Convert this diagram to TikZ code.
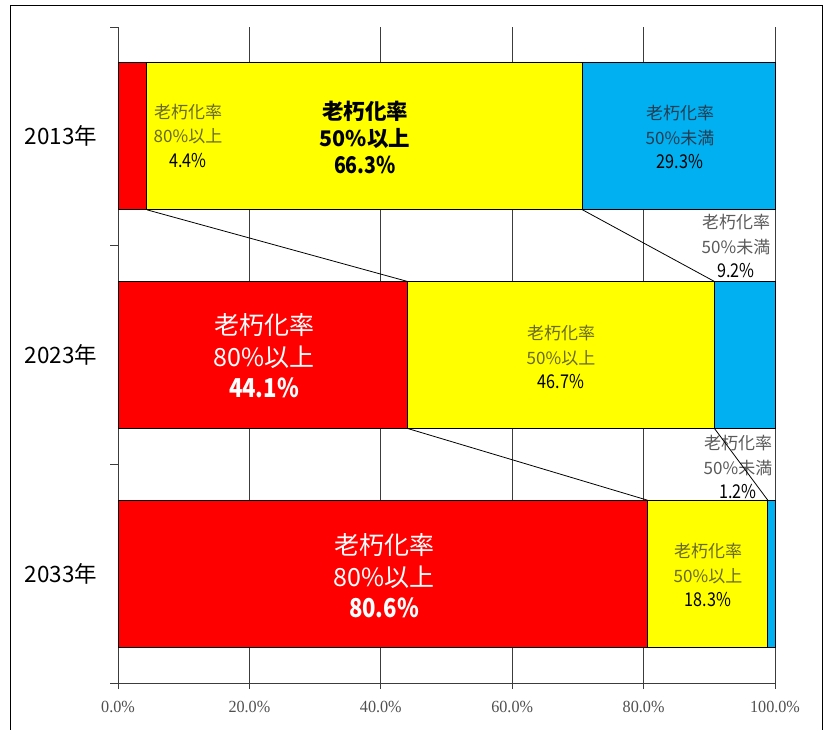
\documentclass[tikz,border=0pt]{standalone}
\usepackage{fontspec}
\newfontfamily\jp{Noto Sans CJK JP}
\newfontfamily\jpn{Noto Sans CJK JP}[FakeStretch=0.85]
\newfontfamily\axf{Liberation Serif}[FakeStretch=0.95]
\definecolor{barred}{RGB}{255,0,0}
\definecolor{baryel}{RGB}{255,255,0}
\definecolor{barblue}{RGB}{0,176,240}
\definecolor{oy}{RGB}{105,105,35}
\definecolor{ob}{RGB}{35,60,80}
\definecolor{ow}{RGB}{90,90,90}
\definecolor{gridc}{RGB}{60,60,60}
\definecolor{axc}{RGB}{80,80,80}
\newcommand\numline{\color{black}\jpn\fontsize{19}{24.5}\selectfont}
\tikzset{
  seg/.style={draw=black, line width=0.9pt, rectangle, inner sep=0pt, outer sep=0pt, minimum height=147pt, anchor=north west},
  lab/.style={align=center, inner sep=0pt},
  small/.style={lab, font=\jp\fontsize{17}{24.5}\selectfont},
  big/.style={lab, font=\jp\fontsize{25}{31.5}\selectfont, text=white},
  axlab/.style={inner sep=0pt, font=\axf\fontsize{17}{18}\selectfont, text=axc},
  yearlab/.style={inner sep=0pt, font=\jp\fontsize{22.5}{24}\selectfont},
  gridl/.style={draw=gridc, line width=0.8pt},
  conn/.style={draw=black, line width=0.8pt}
}
\begin{document}
\begin{tikzpicture}[x=1pt, y=-1pt]
\useasboundingbox (0,0) rectangle (830,729);
\clip (0,0) rectangle (830,729);
% outer frame
\draw[line width=1.8pt] (10.5,5.5) rectangle (822.5,760);
% grid and axes
\foreach \i in {0,...,5} {
  \draw[gridl] (118+131.4*\i,27) -- (118+131.4*\i,689);
}
\draw[gridl] (110,683) -- (775,683);
\foreach \yy in {27,245.67,464.33,683} {
  \draw[gridl] (110,\yy) -- (118,\yy);
}
% bars 2013
\node[seg, fill=barred, minimum width=28.9pt] (r13) at (118,62.8) {};
\node[seg, fill=baryel, minimum width=435.6pt] (ye13) at (r13.north east) {};
\node[seg, fill=barblue, minimum width=192.5pt] (b13) at (ye13.north east) {};
% bars 2023
\node[seg, fill=barred, minimum width=289.7pt] (r23) at (118,281.5) {};
\node[seg, fill=baryel, minimum width=306.8pt] (ye23) at (r23.north east) {};
\node[seg, fill=barblue, minimum width=60.5pt] (b23) at (ye23.north east) {};
% bars 2033
\node[seg, fill=barred, minimum width=529.5pt] (r33) at (118,500.2) {};
\node[seg, fill=baryel, minimum width=120.3pt] (ye33) at (r33.north east) {};
\node[seg, fill=barblue, minimum width=7.2pt] (b33) at (ye33.north east) {};
% year labels
\node[yearlab] (yr13) at (61,136.3) {2013年};
\node[yearlab] (yr23) at (61,355) {2023年};
\node[yearlab] (yr33) at (61,573.7) {2033年};
% axis labels
\node[axlab] (ax0) at (118,707) {0.0\%};
\node[axlab] (ax20) at (249.4,707) {20.0\%};
\node[axlab] (ax40) at (380.8,707) {40.0\%};
\node[axlab] (ax60) at (512.2,707) {60.0\%};
\node[axlab] (ax80) at (643.6,707) {80.0\%};
\node[axlab] (ax100) at (775,707) {100.0\%};
% data labels
\node[small] (l13r) at (188,135.5) {\color{oy}老朽化率\\\color{oy}80\%以上\\\numline 4.4\%};
\node[lab, font=\jp\bfseries\fontsize{21.5}{27}\selectfont] (l13y) at (365,137) {老朽化率\\50\%以上\\\jpn\fontsize{23}{27}\selectfont 66.3\%};
\node[small] (l13b) at (680,137) {\color{ob}老朽化率\\\color{ob}50\%未満\\\numline 29.3\%};
\node[small] (l23b) at (736,246) {\color{ow}老朽化率\\\color{ow}50\%未満\\\numline 9.2\%};
\node[big] (l23r) at (264,356) {老朽化率\\80\%以上\\\bfseries\jpn\fontsize{26}{31.5}\selectfont 44.1\%};
\node[small] (l23y) at (561,357) {\color{oy}老朽化率\\\color{oy}50\%以上\\\numline 46.7\%};
\node[small] (l33b) at (738,467) {\color{ow}老朽化率\\\color{ow}50\%未満\\\numline 1.2\%};
\node[big] (l33r) at (384,576) {老朽化率\\80\%以上\\\bfseries\jpn\fontsize{26}{31.5}\selectfont 80.6\%};
\node[small] (l33y) at (708,575) {\color{oy}老朽化率\\\color{oy}50\%以上\\\numline 18.3\%};
% series lines
\draw[conn] (r13.south east) -- (r23.north east);
\draw[conn] (ye13.south east) -- (ye23.north east);
\draw[conn] (r23.south east) -- (r33.north east);
\draw[conn] (ye23.south east) -- (ye33.north east);
\end{tikzpicture}
\end{document}
